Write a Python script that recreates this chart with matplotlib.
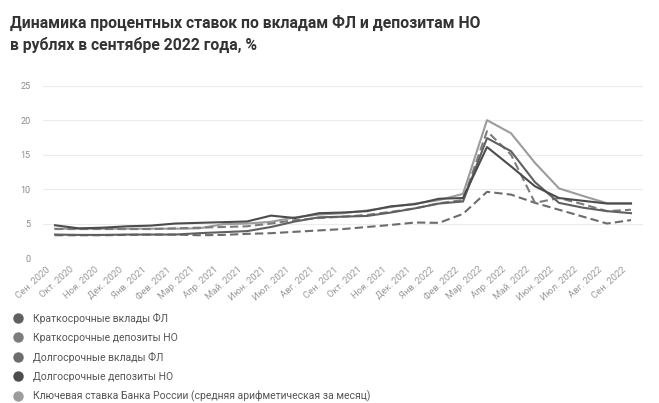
import matplotlib.pyplot as plt
from matplotlib.lines import Line2D
from matplotlib.transforms import ScaledTranslation

plt.rcParams['font.family'] = ['Roboto', 'DejaVu Sans']

# months, Sep 2020 .. Sep 2022
months = ["Сен. 2020", "Окт. 2020", "Ноя. 2020", "Дек. 2020",
          "Янв. 2021", "Фев. 2021", "Мар. 2021", "Апр. 2021", "Май. 2021",
          "Июн. 2021", "Июл. 2021", "Авг. 2021", "Сен. 2021", "Окт. 2021",
          "Ноя. 2021", "Дек. 2021", "Янв. 2022", "Фев. 2022", "Мар. 2022",
          "Апр. 2022", "Май. 2022", "Июн. 2022", "Июл. 2022", "Авг. 2022",
          "Сен. 2022"]

short_fl = [3.4, 3.35, 3.35, 3.4, 3.4, 3.4, 3.6, 3.75, 3.9, 4.5, 5.3, 5.9, 6.0,
            6.1, 6.6, 7.2, 7.9, 8.2, 17.4, 15.5, 11.0, 8.0, 7.3, 6.8, 6.5]
short_no = [4.2, 4.2, 4.2, 4.2, 4.2, 4.3, 4.4, 4.5, 4.6, 5.0, 5.5, 5.8, 6.0,
            6.25, 6.7, 7.2, 7.95, 8.4, 18.4, 15.0, 8.0, 8.7, 7.8, 6.8, 7.0]
long_fl = [3.3, 3.3, 3.3, 3.35, 3.4, 3.4, 3.3, 3.35, 3.5, 3.6, 3.8, 4.0, 4.2,
           4.5, 4.8, 5.15, 5.1, 6.4, 9.6, 9.2, 8.0, 7.0, 6.0, 5.0, 5.5]
long_no = [4.75, 4.3, 4.4, 4.6, 4.7, 5.0, 5.1, 5.2, 5.3, 6.15, 5.8, 6.5, 6.6,
           6.8, 7.5, 7.8, 8.6, 8.7, 16.1, 13.3, 10.4, 8.7, 8.3, 7.9, 7.9]
key_rate = [4.25, 4.25, 4.25, 4.25, 4.25, 4.25, 4.3, 4.9, 5.0, 5.25, 5.9, 6.3,
            6.5, 6.9, 7.4, 7.9, 8.4, 9.3, 20.0, 18.1, 13.8, 10.1, 9.0, 7.95, 7.95]

names = ["Краткосрочные вклады ФЛ",
         "Краткосрочные депозиты НО",
         "Долгосрочные вклады ФЛ",
         "Долгосрочные депозиты НО",
         "Ключевая ставка Банка России (средняя арифметическая за месяц)"]
series = [short_fl, short_no, long_fl, long_no, key_rate]
colors = ["#606060", "#7c7c7c", "#6c6c6c", "#4c4c4c", "#9c9c9c"]
styles = ["-", (0, (4, 2)), (0, (4, 2)), "-", "-"]

fig = plt.figure(figsize=(6.59, 4.03), dpi=100)
ax = fig.add_axes([43 / 659, 1 - 258 / 403, 600 / 659, 172.3 / 403])

x = list(range(len(months)))
# key rate first so the others sit on top of it
for i in [4, 2, 1, 0, 3]:
    ax.plot(x, series[i], color=colors[i], linestyle=styles[i], lw=1.5,
            clip_on=False, zorder=3)

ax.set_xlim(-0.5, 24.5)
ax.set_ylim(0, 25)
ax.set_yticks([0, 5, 10, 15, 20, 25])
ax.grid(axis='y', color='#ececec', lw=0.8)
ax.set_axisbelow(True)
for s in ax.spines.values():
    s.set_visible(False)
ax.tick_params(axis='both', length=0, labelsize=6.5, labelcolor='#8a8a8a')
ax.tick_params(axis='y', pad=9)
ax.set_xticks(x)
ax.set_xticklabels(months, rotation=42, ha='right', rotation_mode='anchor',
                   fontsize=6.8, color='#999999')
shift = ScaledTranslation(-9 / 100, -2 / 100, fig.dpi_scale_trans)
for lab in ax.get_xticklabels():
    lab.set_transform(lab.get_transform() + shift)

fig.text(0.015, 0.962, "Динамика процентных ставок по вкладам ФЛ и депозитам НО\n"
         "в рублях в сентябре 2022 года, %", fontsize=11.3, fontweight='bold',
         color='#333333', va='top', ha='left', linespacing=1.45)

handles = [Line2D([], [], marker='o', linestyle='', markersize=6.5,
                  color=c) for c in colors]
fig.legend(handles, names, loc='upper left', bbox_to_anchor=(0.018, 0.224),
           frameon=False, fontsize=7.5, labelcolor='#555555',
           handletextpad=0.8, labelspacing=0.86, handlelength=1.2,
           borderaxespad=0, borderpad=0)

fig.savefig("out.png", dpi=100)
